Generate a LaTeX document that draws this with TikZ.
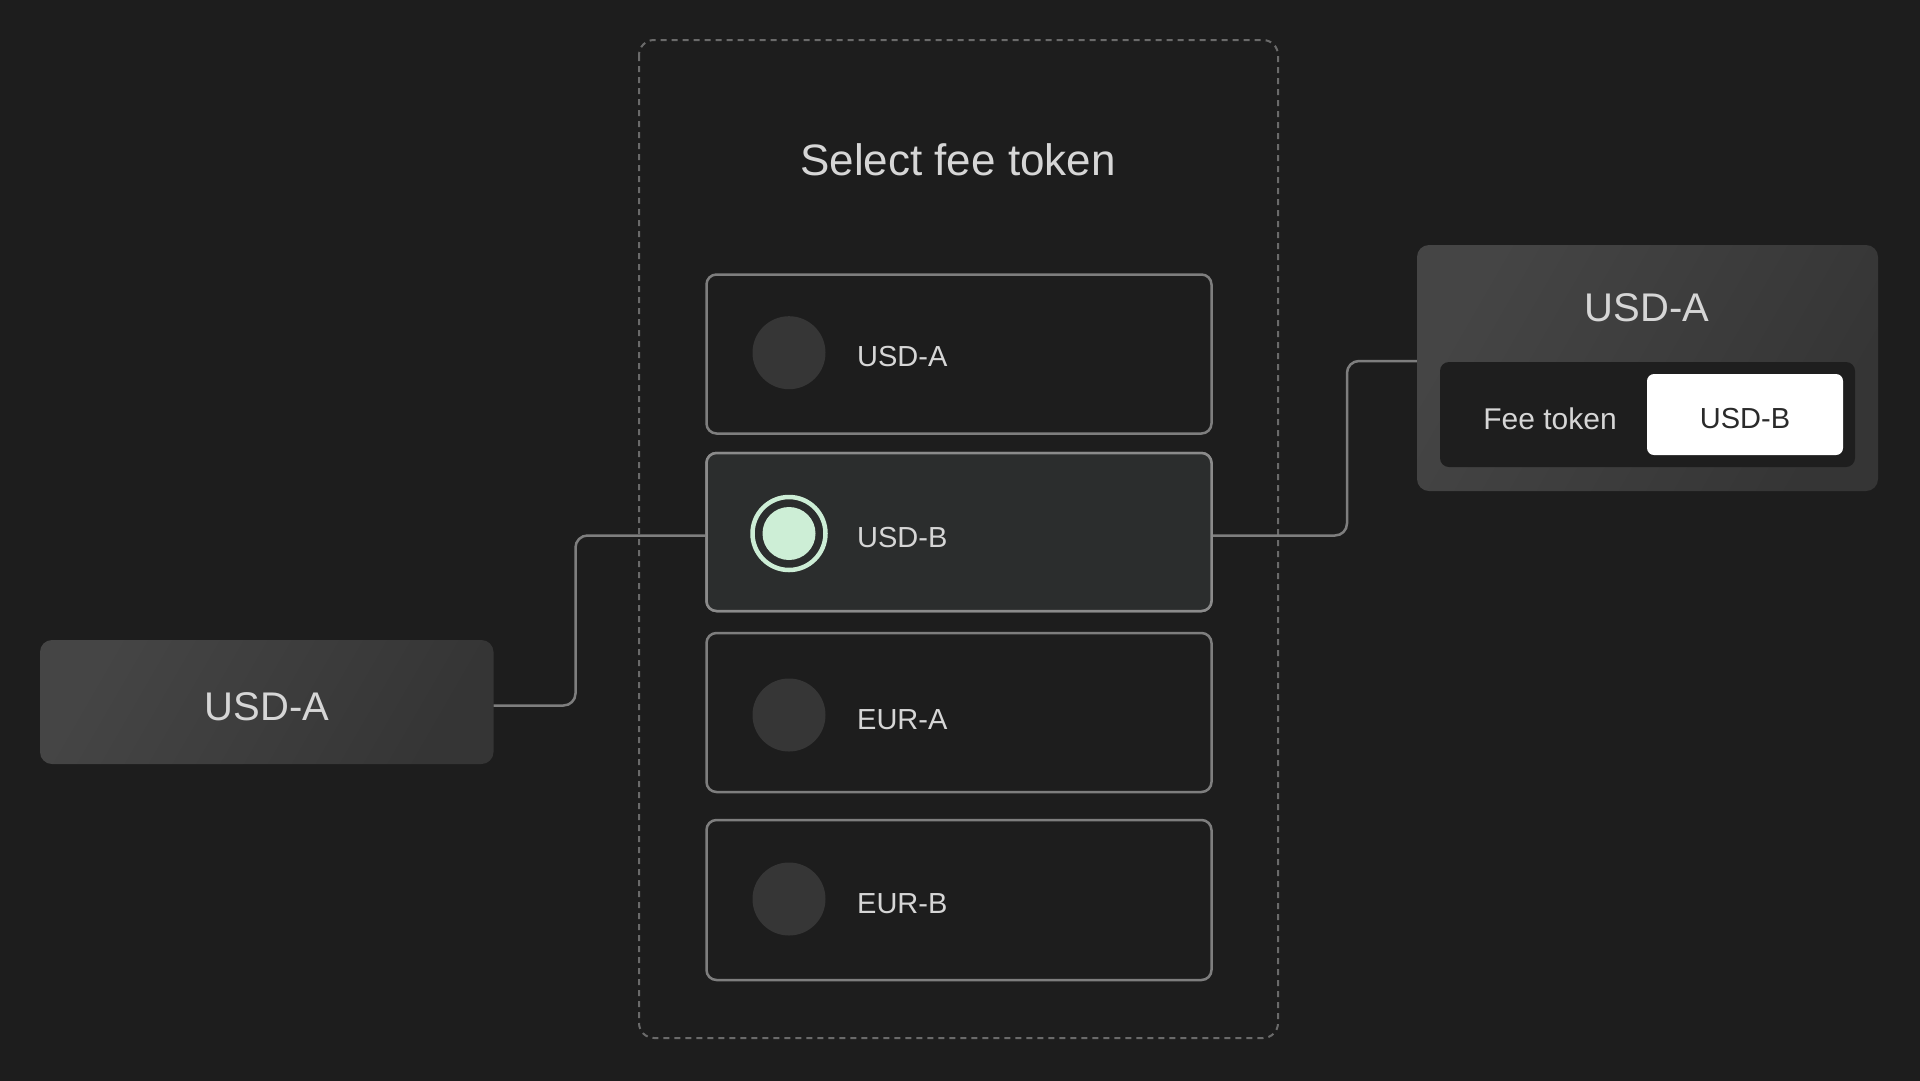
\documentclass[tikz,border=0pt]{standalone}
\usepackage{fontspec}
\setmainfont{Liberation Sans}
\usetikzlibrary{calc}
\definecolor{bg}{HTML}{1D1D1D}
\definecolor{dashc}{HTML}{6A6A6A}
\definecolor{linec}{HTML}{7E7E7E}
\definecolor{txt}{HTML}{D6D6D6}
\definecolor{dot}{HTML}{363636}
\definecolor{selfill}{HTML}{2B2D2D}
\definecolor{mint}{HTML}{CDEED6}
\definecolor{cardA}{HTML}{454545}
\definecolor{cardB}{HTML}{353535}
\definecolor{panel}{HTML}{1E1E1E}
\definecolor{darktxt}{HTML}{2A2A2A}
\tikzset{
  container/.style={draw=dashc, line width=2pt, dash pattern=on 6pt off 5pt, rounded corners=15pt},
  optbox/.style={draw=linec, line width=2.5pt, rounded corners=10pt, fill=bg, minimum width=505pt, inner sep=0pt},
  selbox/.style={optbox, fill=selfill, draw=linec!90!white},
  dotc/.style={circle, fill=dot, minimum size=73pt, inner sep=0pt},
  lbl/.style={text=txt, font=\fontsize{29}{34}\selectfont, anchor=west, inner sep=0pt},
  conn/.style={draw=linec, line width=2.5pt, rounded corners=12pt},
  card/.style={rounded corners=12pt, left color=cardA, right color=cardB, shading angle=60, inner sep=0pt},
  bigtxt/.style={text=txt, font=\fontsize{40}{46}\selectfont, inner sep=0pt}
}
\begin{document}
\begin{tikzpicture}[x=1pt,y=-1pt]
\useasboundingbox (0,0) rectangle (1920,1080);
\fill[bg] (-10,-10) rectangle (1930,1090);

% container
\draw[container] (639,40) rectangle (1278,1038);
\node[text=txt, font=\fontsize{44}{50}\selectfont, inner sep=0pt] (title) at (958,160) {Select fee token};

% option boxes
\node[optbox, minimum height=159pt] (o1) at (959,354) {};
\node[selbox, minimum height=158pt] (o2) at (959,532) {};
\node[optbox, minimum height=159pt] (o3) at (959,712.5) {};
\node[optbox, minimum height=160pt] (o4) at (959,900) {};

% left card
\node[card, minimum width=453.5pt, minimum height=124pt] (lbox) at (266.75,702) {};
\node[bigtxt] (ltxt) at (267,706.5) {USD-A};

% right card
\node[card, minimum width=461pt, minimum height=246pt] (rbox) at (1647.5,368) {};
\node[bigtxt] (rtxt) at (1647,307.5) {USD-A};
\node[fill=panel, rounded corners=9pt, minimum width=415pt, minimum height=105pt, inner sep=0pt] (panel) at (1647.5,414.5) {};
\node[fill=white, rounded corners=7pt, minimum width=196pt, minimum height=81pt, inner sep=0pt] (pill) at (1745,414.5) {};
\node[text=txt, font=\fontsize{30}{35}\selectfont, inner sep=0pt] (feetxt) at (1550,418.5) {Fee token};
\node[text=darktxt, font=\fontsize{29}{34}\selectfont, inner sep=0pt] (pilltxt) at (1745,418.5) {USD-B};

% connectors
\coordinate (lj) at (575.5,0);
\coordinate (rj) at (1347,0);
\draw[conn] ([yshift=-3.5pt]lbox.east) -| (lj |- 0,535.5) -- ([yshift=-3.5pt]o2.west);
\draw[conn] ([yshift=-3.5pt]o2.east) -| (rj |- 0,361) -- ([yshift=7pt]rbox.west);

% redraw selected box on top of connector ends
\node[selbox, minimum height=158pt] at (o2) {};

% circles
\node[dotc] (c1) at (789,352.7) {};
\node[circle, draw=mint, line width=4.5pt, minimum size=73pt, inner sep=0pt] (c2) at (789,533.5) {};
\node[circle, fill=mint, minimum size=53pt, inner sep=0pt] (c2i) at (c2) {};
\node[dotc] (c3) at (789,715) {};
\node[dotc] (c4) at (789,899) {};

% labels
\node[lbl] (t1) at (857,357) {USD-A};
\node[lbl] (t2) at (857,537.5) {USD-B};
\node[lbl] (t3) at (857,719.5) {EUR-A};
\node[lbl] (t4) at (857,903.5) {EUR-B};
\end{tikzpicture}
\end{document}
